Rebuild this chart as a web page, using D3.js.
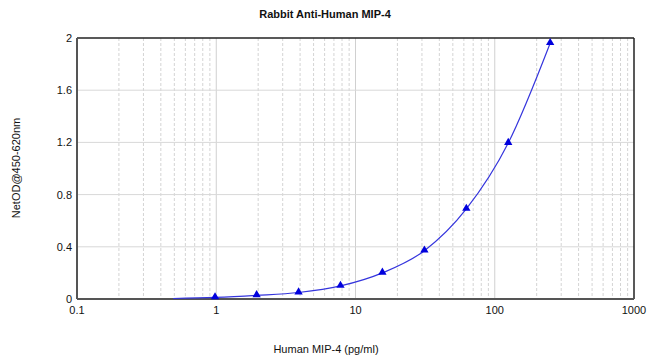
<!DOCTYPE html>
<html><head><meta charset="utf-8">
<script src="https://cdn.jsdelivr.net/npm/d3@7"></script>
<style>body{margin:0;background:#fff}svg{display:block;font-family:"Liberation Sans",Arial,sans-serif}</style>
</head><body><svg id="c" width="650" height="363"></svg>
<script>
const concentrations = [0.98, 1.95, 3.9, 7.8, 15.6, 31.25, 62.5, 125, 250];
const odValues = [0.012, 0.028, 0.05, 0.1, 0.2, 0.37, 0.69, 1.195, 1.96];
const curveX = [0.49, 0.98, 1.95, 3.9, 7.8, 15.6, 31.25, 62.5, 125, 250];
const curveY = [0.004, 0.012, 0.028, 0.05, 0.1, 0.2, 0.37, 0.69, 1.195, 1.96];
const xTicks = [0.1, 1, 10, 100, 1000];
const xTickLabels = ["0.1", "1", "10", "100", "1000"];
const yTicks = [0, 0.4, 0.8, 1.2, 1.6, 2];
const yTickLabels = ["0", "0.4", "0.8", "1.2", "1.6", "2"];

const svg = d3.select("#c");
const L = 77, R = 634, T = 38, B = 299;
const x = d3.scaleLog().domain([0.1, 1000]).range([L, R]);
const y = d3.scaleLinear().domain([0, 2]).range([B, T]);

// minor vertical gridlines
const minor = [];
[0.1, 1, 10, 100].forEach(d => { for (let k = 2; k <= 9; k++) minor.push(d * k); });
svg.append("g").selectAll("line").data(minor).join("line")
  .attr("x1", d => x(d)).attr("x2", d => x(d)).attr("y1", T).attr("y2", B)
  .attr("stroke", "#d4d4d4").attr("stroke-dasharray", "3,2").attr("stroke-width", 1);
// major vertical gridlines
svg.append("g").selectAll("line").data(xTicks.slice(1, -1)).join("line")
  .attr("x1", d => x(d)).attr("x2", d => x(d)).attr("y1", T).attr("y2", B)
  .attr("stroke", "#d0d0d0").attr("stroke-width", 1);
// horizontal gridlines
svg.append("g").selectAll("line").data(yTicks.slice(1, -1)).join("line")
  .attr("x1", L).attr("x2", R).attr("y1", d => y(d)).attr("y2", d => y(d))
  .attr("stroke", "#d8d8d8").attr("stroke-width", 1);

// frame
svg.append("line").attr("x1", L).attr("x2", R).attr("y1", T).attr("y2", T).attr("stroke", "#222").attr("stroke-width", 1.5);
svg.append("line").attr("x1", R).attr("x2", R).attr("y1", T).attr("y2", B).attr("stroke", "#222").attr("stroke-width", 1.5);
svg.append("line").attr("x1", L).attr("x2", L).attr("y1", T).attr("y2", B).attr("stroke", "#555").attr("stroke-width", 2);
svg.append("line").attr("x1", L).attr("x2", R).attr("y1", B).attr("y2", B).attr("stroke", "#555").attr("stroke-width", 2);

// tick labels
svg.append("g").selectAll("text").data(yTicks).join("text")
  .attr("x", L - 5).attr("y", d => y(d) + 4).attr("text-anchor", "end")
  .attr("font-size", 11).attr("fill", "#111").text((d, i) => yTickLabels[i]);
svg.append("g").selectAll("text").data(xTicks).join("text")
  .attr("x", d => x(d)).attr("y", B + 15).attr("text-anchor", "middle")
  .attr("font-size", 11).attr("fill", "#111").text((d, i) => xTickLabels[i]);

// curve
const line = d3.line().x(d => x(d[0])).y(d => y(d[1])).curve(d3.curveMonotoneX);
svg.append("path").datum(curveX.map((v, i) => [v, curveY[i]]))
  .attr("d", line).attr("fill", "none").attr("stroke", "#3535dd").attr("stroke-width", 1.2);

// points
const tri = d3.symbol().type(d3.symbolTriangle).size(30);
svg.append("g").selectAll("path").data(concentrations).join("path")
  .attr("transform", (d, i) => `translate(${x(d)},${y(odValues[i]) - 0.5})`)
  .attr("d", tri).attr("fill", "#0000dd");

// titles
svg.append("text").attr("x", 325).attr("y", 18).attr("text-anchor", "middle")
  .attr("font-size", 11).attr("font-weight", "bold").attr("fill", "#111").text("Rabbit Anti-Human MIP-4");
svg.append("text").attr("x", 326).attr("y", 353).attr("text-anchor", "middle")
  .attr("font-size", 11).attr("fill", "#111").text("Human MIP-4 (pg/ml)");
svg.append("text").attr("transform", "translate(20,168) rotate(-90)").attr("text-anchor", "middle")
  .attr("font-size", 11).attr("fill", "#111").text("NetOD@450-620nm");
</script></body></html>
